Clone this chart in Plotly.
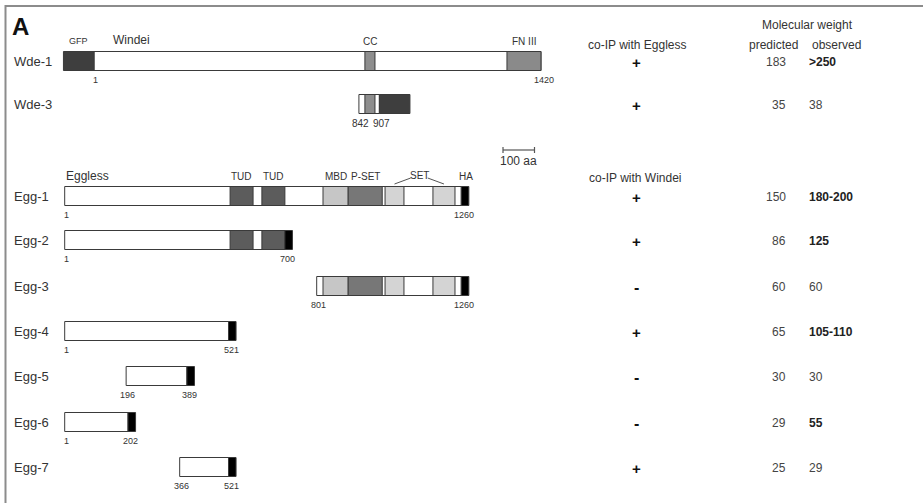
import plotly.graph_objects as go

# ---------------- data ----------------
CONSTRUCTS = ["Wde-1", "Wde-3", "Egg-1", "Egg-2", "Egg-3", "Egg-4", "Egg-5", "Egg-6", "Egg-7"]
PROTEIN = ["Windei", "Windei", "Eggless", "Eggless", "Eggless", "Eggless", "Eggless", "Eggless", "Eggless"]
START_AA = [1, 842, 1, 1, 801, 1, 196, 1, 366]
END_AA = [1420, 907, 1260, 700, 1260, 521, 389, 202, 521]
TAG = ["GFP", "GFP", "HA", "HA", "HA", "HA", "HA", "HA", "HA"]
TAG_SIDE = ["N", "C", "C", "C", "C", "C", "C", "C", "C"]

WINDEI_DOMAIN_NAMES = ["CC", "FN III"]
WINDEI_DOMAIN_START = [861, 1312]
WINDEI_DOMAIN_END = [893, 1420]

EGGLESS_DOMAIN_NAMES = ["TUD", "TUD", "MBD", "P-SET", "SET", "SET"]
EGGLESS_DOMAIN_START = [526, 627, 821, 901, 1018, 1170]
EGGLESS_DOMAIN_END = [599, 700, 901, 1009, 1078, 1240]

COIP = ["+", "+", "+", "+", "-", "+", "-", "-", "+"]
MW_PREDICTED = [183, 35, 150, 86, 60, 65, 30, 29, 25]
MW_OBSERVED = [">250", "38", "180-200", "125", "60", "105-110", "30", "55", "29"]
MW_OBSERVED_BOLD = [True, False, True, True, False, True, False, True, False]

SCALE_BAR_AA = 100

# ---------------- style / layout ----------------
W, H = 923, 503
PX_PER_AA = 0.315
X0_PX = 64.7          # pixel of Eggless residue 1
WDE_SHIFT = 93        # drawing offset of Windei residue numbering (room for N-terminal GFP)
GFP_LEN = 97
HA_LEN = 24
ROW_Y = [61, 104, 196, 240, 286, 331, 376, 422, 467]
BAR_H = 19
FONT = "Liberation Sans, Arial, Helvetica, sans-serif"
TXT = "#333333"
OUTLINE = "#3a3a3a"

COLORS = {"GFP": "#3e3e3e", "HA": "#000000", "CC": "#8e8e8e", "FN III": "#8a8a8a",
          "TUD": "#5c5c5c", "MBD": "#c6c6c6", "P-SET": "#777777", "SET": "#d4d4d4",
          "body": "#ffffff"}

x_min = 1 - X0_PX / PX_PER_AA
x_max = 1 + (W - X0_PX) / PX_PER_AA


def u_of(protein, aa):
    return aa + (WDE_SHIFT if protein == "Windei" else 0)


def px2u(px):
    return 1 + (px - X0_PX) / PX_PER_AA


bar_y, bar_base, bar_len, bar_col = [], [], [], []


def add_seg(y, a, b, col):
    bar_y.append(y)
    bar_base.append(a)
    bar_len.append(b - a)
    bar_col.append(col)


annotations = []


def text(x, y, s, size=12, xanchor="center", xref="x", color=TXT, yanchor="middle"):
    annotations.append(dict(x=x, y=y, xref=xref, yref="y", text=s, showarrow=False,
                            xanchor=xanchor, yanchor=yanchor, borderpad=0,
                            font=dict(family=FONT, size=size, color=color)))


for i, name in enumerate(CONSTRUCTS):
    prot = PROTEIN[i]
    y = ROW_Y[i]
    a = u_of(prot, START_AA[i])
    b = u_of(prot, END_AA[i])
    # protein body
    add_seg(y, a, b, COLORS["body"])
    # domains
    if prot == "Windei":
        dn, ds, de = WINDEI_DOMAIN_NAMES, WINDEI_DOMAIN_START, WINDEI_DOMAIN_END
    else:
        dn, ds, de = EGGLESS_DOMAIN_NAMES, EGGLESS_DOMAIN_START, EGGLESS_DOMAIN_END
    for n, s, e in zip(dn, ds, de):
        s2, e2 = max(s, START_AA[i]), min(e, END_AA[i])
        if e2 > s2:
            add_seg(y, u_of(prot, s2), u_of(prot, e2), COLORS[n])
    # tag
    tlen = GFP_LEN if TAG[i] == "GFP" else HA_LEN
    if TAG_SIDE[i] == "N":
        add_seg(y, a - tlen, a, COLORS[TAG[i]])
    else:
        add_seg(y, b, b + tlen, COLORS[TAG[i]])
    # row label
    text(13 / W, y, name, size=13, xanchor="left", xref="paper")
    # residue numbers below
    sz = 10 if name == "Wde-3" else 9
    text(a + 5, y + 19, str(START_AA[i]), size=sz)
    text(b + 8, y + 19, str(END_AA[i]), size=sz)
    # table
    text(636 / W, y + 1, "<b>%s</b>" % COIP[i], size=15 if COIP[i] == "+" else 16,
         xref="paper", color="#111")
    text(787 / W, y + 1, str(MW_PREDICTED[i]), size=12, xanchor="right", xref="paper", color="#444")
    obs = MW_OBSERVED[i]
    text(808 / W, y + 1, "<b>%s</b>" % obs if MW_OBSERVED_BOLD[i] else obs, size=12,
         xanchor="left", xref="paper", color="#222" if MW_OBSERVED_BOLD[i] else "#444")

# domain headers above the full-length constructs
header_rows = {"Windei": 0, "Eggless": 2}
brk_x, brk_y = [], []
for prot, ri in header_rows.items():
    y = ROW_Y[ri] - 20
    if prot == "Windei":
        dn, ds, de = WINDEI_DOMAIN_NAMES, WINDEI_DOMAIN_START, WINDEI_DOMAIN_END
        tag_c = u_of(prot, START_AA[ri]) - GFP_LEN / 2
        text(tag_c, y, "GFP", size=9)
        text(px2u(112), y - 1, "Windei", size=12, xanchor="left")
    else:
        dn, ds, de = EGGLESS_DOMAIN_NAMES, EGGLESS_DOMAIN_START, EGGLESS_DOMAIN_END
        tag_c = u_of(prot, END_AA[ri]) + HA_LEN / 2
        text(tag_c + 3, y, "HA", size=10)
        text(px2u(65), y, "Eggless", size=12, xanchor="left")
    set_idx = [k for k, n in enumerate(dn) if n == "SET"]
    for k, (n, s, e) in enumerate(zip(dn, ds, de)):
        if n == "SET":
            continue
        text(u_of(prot, (s + e) / 2), y, n, size=10)
    if set_idx:
        s1 = (ds[set_idx[0]] + de[set_idx[0]]) / 2
        s2 = (ds[set_idx[-1]] + de[set_idx[-1]]) / 2
        mid = (s1 + s2) / 2
        text(mid, y - 1, "SET", size=10)
        half = 8.5 / PX_PER_AA
        brk_x += [s1, mid - half, None, mid + half, s2]
        brk_y += [y + 8, y + 2, None, y + 2, y + 8]

# headers of the table
text(587 / W, 45, "co-IP with Eggless", size=12, xanchor="left", xref="paper")
text(588 / W, 178, "co-IP with Windei", size=12, xanchor="left", xref="paper")
text(807 / W, 25, "Molecular weight", size=12, xref="paper")
text(773 / W, 45, "predicted", size=12, xref="paper")
text(836 / W, 45, "observed", size=12, xref="paper")

# panel letter
text(11 / W, 26, "<b>A</b>", size=24, xanchor="left", xref="paper", color="#111")

fig = go.Figure()
fig.add_trace(go.Bar(orientation="h", y=bar_y, x=bar_len, base=bar_base,
                     width=[BAR_H] * len(bar_y),
                     marker=dict(color=bar_col, line=dict(color=OUTLINE, width=1)),
                     hoverinfo="skip", showlegend=False))

# SET bracket
fig.add_trace(go.Scatter(x=brk_x, y=brk_y, mode="lines", line=dict(color="#555", width=1),
                         hoverinfo="skip", showlegend=False))

# scale bar
sb0 = px2u(503)
sb1 = sb0 + SCALE_BAR_AA
fig.add_trace(go.Scatter(x=[sb0, sb0, None, sb0, sb1, None, sb1, sb1],
                         y=[147, 153, None, 150, 150, None, 147, 153],
                         mode="lines", line=dict(color="#555", width=1.2),
                         hoverinfo="skip", showlegend=False))
text((sb0 + sb1) / 2, 161, "100 aa", size=12)

fig.update_layout(
    width=W, height=H, margin=dict(l=0, r=0, t=0, b=0),
    paper_bgcolor="white", plot_bgcolor="white", barmode="overlay",
    xaxis=dict(range=[x_min, x_max], visible=False, fixedrange=True),
    yaxis=dict(range=[H, 0], visible=False, fixedrange=True),
    annotations=annotations,
    shapes=[dict(type="rect", xref="paper", yref="paper", x0=5.5 / W, x1=1.2, y0=-0.2,
                 y1=1 - 6 / H, line=dict(color="#8c8c8c", width=2), layer="above")],
)
fig.write_html("out.html", config={"displayModeBar": False},
               post_script="document.body.style.margin='0';document.body.style.padding='0';"
                           "document.body.style.overflow='hidden';")
